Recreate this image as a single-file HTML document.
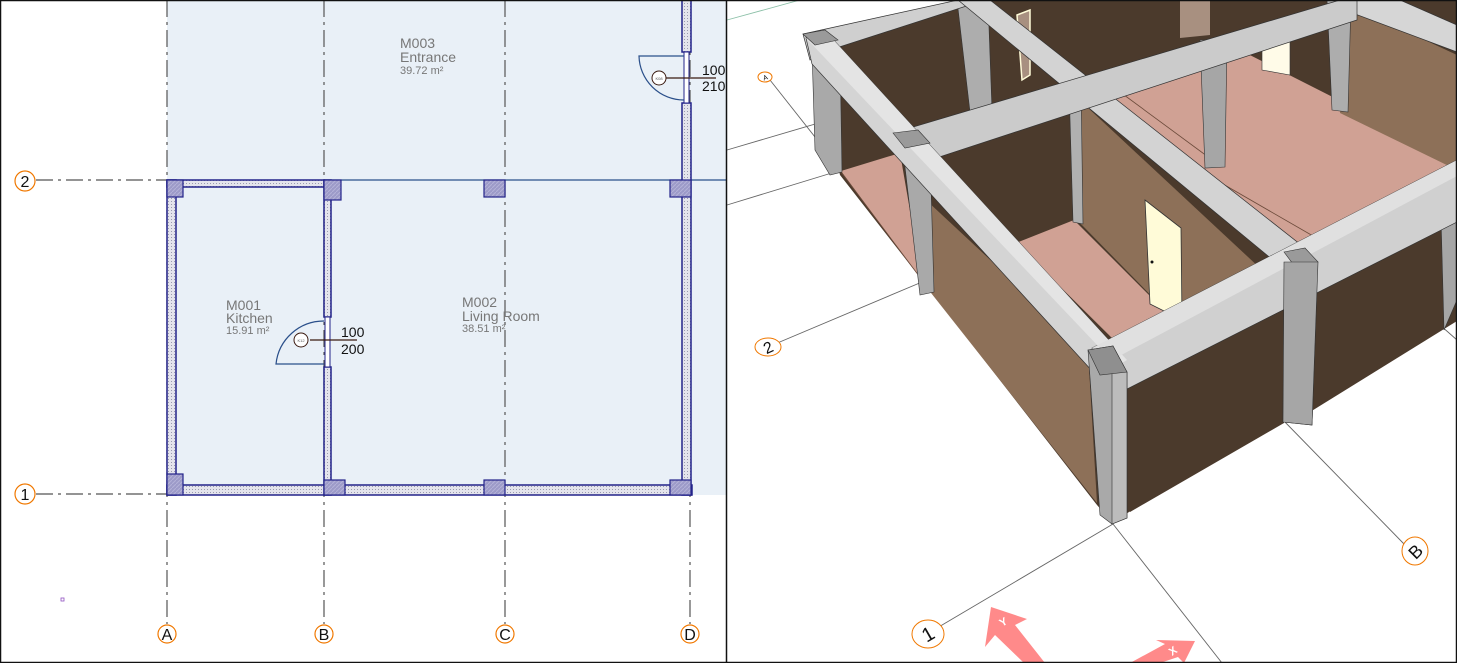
<!DOCTYPE html>
<html><head><meta charset="utf-8"><style>
html,body{margin:0;padding:0;background:#fff;}
svg{display:block;}
text{font-family:"Liberation Sans",sans-serif;}
</style></head><body>
<svg width="1457" height="663" viewBox="0 0 1457 663" xmlns="http://www.w3.org/2000/svg">
<defs>
<pattern id="dots" width="3" height="3" patternUnits="userSpaceOnUse"><rect width="3" height="3" fill="#e4e4ec"/><rect width="1" height="1" fill="#9a9ab0"/></pattern>
<pattern id="hatch" width="4" height="4" patternUnits="userSpaceOnUse"><rect width="4" height="4" fill="#9c9ac8"/><path d="M0 4L4 0" stroke="#b4b2d8" stroke-width="1"/></pattern>
</defs>
<!-- LEFT PLAN -->
<rect x="0" y="0" width="727" height="663" fill="#fff"/>
<rect x="167" y="0" width="559" height="495" fill="#e9f0f7"/>
<g stroke="#555" stroke-width="1.2" stroke-dasharray="17,5,3,5" fill="none">
<line x1="167" y1="0" x2="167" y2="624"/>
<line x1="324" y1="0" x2="324" y2="624"/>
<line x1="505" y1="0" x2="505" y2="624"/>
<line x1="690" y1="0" x2="690" y2="624"/>
<line x1="36" y1="180" x2="167" y2="180"/>
<line x1="36" y1="494" x2="167" y2="494"/>
</g>
<line x1="324" y1="180" x2="726" y2="180" stroke="#2a4f8a" stroke-width="1.2"/>
<g stroke="#23238a" stroke-width="1.5" fill="url(#dots)">
<rect x="167" y="180" width="157" height="7"/>
<rect x="167" y="180" width="9" height="315"/>
<rect x="167" y="485" width="525" height="10"/>
<rect x="682" y="0" width="9" height="52"/>
<rect x="682" y="103" width="9" height="392"/>
<rect x="324" y="180" width="7" height="137"/>
<rect x="324" y="367" width="7" height="128"/>
</g>
<rect x="684" y="52" width="5" height="51" fill="#fff" stroke="#23238a" stroke-width="1"/>
<rect x="325" y="317" width="5" height="50" fill="#fff" stroke="#23238a" stroke-width="1"/>
<g stroke="#23238a" stroke-width="1.2" fill="url(#hatch)">
<rect x="167" y="180" width="16" height="17"/>
<rect x="324" y="180" width="17" height="20"/>
<rect x="484" y="180" width="21" height="17"/>
<rect x="670" y="180" width="21" height="17"/>
<rect x="167" y="474" width="16" height="21"/>
<rect x="324" y="480" width="21" height="15"/>
<rect x="484" y="480" width="21" height="15"/>
<rect x="670" y="480" width="21" height="15"/>
</g>
<path d="M324 321 A48 48 0 0 0 276 364 L324 364" fill="none" stroke="#2a4f8a" stroke-width="1.2"/>
<line x1="310" y1="340" x2="357" y2="340" stroke="#3a1a10" stroke-width="1.2"/>
<circle cx="301" cy="340" r="7" fill="#fff" stroke="#3a1a10"/>
<text x="301" y="342" font-size="4" text-anchor="middle" fill="#555">K12</text>
<text x="341" y="337" font-size="14" fill="#111">100</text>
<text x="341" y="354" font-size="14" fill="#111">200</text>
<path d="M684 56 L639 56 A45 45 0 0 0 684 100" fill="none" stroke="#2a4f8a" stroke-width="1.2"/>
<line x1="665" y1="78" x2="716" y2="78" stroke="#3a1a10" stroke-width="1.2"/>
<circle cx="659" cy="78" r="7" fill="#fff" stroke="#3a1a10"/>
<text x="659" y="80" font-size="4" text-anchor="middle" fill="#555">K08</text>
<text x="702" y="75" font-size="14" fill="#111">100</text>
<text x="702" y="91" font-size="14" fill="#111">210</text>
<g fill="#777">
<text x="226" y="310" font-size="14">M001</text>
<text x="226" y="323" font-size="14">Kitchen</text>
<text x="226" y="334" font-size="11">15.91 m²</text>
<text x="462" y="307" font-size="14">M002</text>
<text x="462" y="321" font-size="14">Living Room</text>
<text x="462" y="332" font-size="11">38.51 m²</text>
<text x="400" y="48" font-size="14">M003</text>
<text x="400" y="62" font-size="14">Entrance</text>
<text x="400" y="74" font-size="11">39.72 m²</text>
</g>
<g fill="#fff" stroke="#f07800" stroke-width="1.2">
<circle cx="25" cy="181" r="10"/><circle cx="25" cy="494" r="10"/>
<circle cx="167" cy="634" r="9"/><circle cx="324" cy="634" r="9"/>
<circle cx="505" cy="634" r="9"/><circle cx="690" cy="634" r="9"/>
</g>
<g font-size="16" fill="#111" text-anchor="middle">
<text x="25" y="187">2</text><text x="25" y="500">1</text>
<text x="167" y="640">A</text><text x="324" y="640">B</text>
<text x="505" y="640">C</text><text x="690" y="640">D</text>
</g>
<rect x="61" y="598" width="3" height="3" fill="none" stroke="#9050c0" stroke-width="0.8"/>

<!-- RIGHT 3D -->
<g>
<g stroke="#666" stroke-width="0.9" fill="none">
<line x1="727" y1="150" x2="822" y2="122"/>
<line x1="727" y1="205" x2="835" y2="172"/>
<line x1="770" y1="80" x2="845" y2="175"/>
<line x1="775" y1="344" x2="922" y2="282"/>
<line x1="937" y1="628" x2="1113" y2="524"/>
<line x1="1113" y1="524" x2="1222" y2="663"/>
<line x1="1283" y1="420" x2="1405" y2="545"/>
<line x1="1440" y1="325" x2="1457" y2="340"/>
</g>
<line x1="727" y1="20" x2="800" y2="0" stroke="#8cc0a8" stroke-width="0.9"/>
<polygon points="805,35 960,0 1457,0 1457,320 1112,522 1097,505 922,280 840,175" fill="#4b3a2c"/>
<polygon points="841,171 900,153 922,280" fill="#d0a194"/>
<line x1="841" y1="172" x2="922" y2="280" stroke="#6b4a3a" stroke-width="0.8"/>
<polygon points="1100,98 1240,50 1457,160 1457,178 1293,252 1185,165" fill="#d0a194"/>
<polygon points="1016,243 1074,220 1169,315 1116,342" fill="#d0a194"/>
<line x1="1120" y1="92" x2="1215" y2="162" stroke="#6b4a3a" stroke-width="0.8"/>
<line x1="1190" y1="165" x2="1320" y2="240" stroke="#6b4a3a" stroke-width="0.8"/>
<polygon points="1072,93 1262,270 1170,315 1079,222" fill="#8d7058"/>
<polygon points="1350,5 1457,55 1457,170 1340,113" fill="#8d7058"/>
<polygon points="1180,0 1210,0 1210,35 1180,38" fill="#a89080"/>
<polygon points="1017,15 1030,10 1030,75 1022,80" fill="#a89080" stroke="#fffbd8" stroke-width="1.5"/>
<polygon points="1262,35 1290,28 1290,75 1262,70" fill="#fffbe8" stroke="#333" stroke-width="0.6"/>
<polygon points="1145,200 1181,228 1182,320 1150,304" fill="#fffbd8" stroke="#333" stroke-width="0.8"/>
<circle cx="1152" cy="262" r="1.5" fill="#111"/>
<polygon points="911,186 1088,351 1097,503 920,279" fill="#8d7058"/>
<polygon points="1125,368 1295,296 1284,423 1130,512" fill="#4b3a2c"/>
<polygon points="1318,271 1457,210 1457,321 1310,412" fill="#4b3a2c"/>
<!-- columns behind beams -->
<g stroke="#333" stroke-width="0.6">
<polygon points="812,50 840,50 842,172 830,175 815,150" fill="#a9a9a9"/>
<polygon points="957,0 988,0 992,110 970,112" fill="#adadad"/>
<polygon points="1327,0 1351,0 1348,112 1332,110" fill="#adadad"/>
<polygon points="1069,85 1081,85 1083,224 1073,222" fill="#b0b0b0"/>
<polygon points="903,150 930,150 934,292 920,295" fill="#a9a9a9"/>
<polygon points="1200,40 1227,40 1225,167 1205,168" fill="#a6a6a6"/>
<polygon points="1284,262 1318,262 1312,425 1283,422" fill="#a6a6a6"/>
<polygon points="1440,180 1457,175 1457,300 1444,330" fill="#a6a6a6"/>
</g>
<!-- beams -->
<g stroke="#333" stroke-width="0.7">
<polygon points="803,34 958,0 985,0 830,50 810,60" fill="#cfcfcf"/>
<polygon points="1350,0 1400,0 1457,25 1457,52 1355,14" fill="#d6d6d6"/>
<polygon points="958,0 990,0 1310,252 1285,270" fill="#d3d3d3"/>
<polygon points="893,133 1340,0 1357,0 1357,20 915,165" fill="#cbcbcb"/>
<polygon points="806,38 830,36 1127,360 1104,384 812,64" fill="#d4d4d4"/>
<polygon points="1092,348 1457,160 1457,222 1125,390 1100,382" fill="#d0d0d0"/>
</g>
<polygon points="806,38 830,36 1127,360 1117,366" fill="#e4e4e4"/>
<polygon points="1092,348 1457,160 1457,176 1112,360" fill="#e0e0e0"/>
<!-- caps and front column -->
<g stroke="#333" stroke-width="0.6">
<polygon points="1284,252 1305,248 1318,262 1296,268" fill="#9a9a9a"/>
<polygon points="893,133 918,130 930,143 905,148" fill="#9a9a9a"/>
<polygon points="803,34 825,30 838,40 815,45" fill="#9a9a9a"/>
<polygon points="1284,262 1318,262 1312,425 1283,422" fill="#a6a6a6"/>
<polygon points="1088,350 1113,346 1127,372 1127,518 1112,524 1100,515" fill="#a9a9a9"/>
<polygon points="1112,372 1127,372 1127,518 1112,524" fill="#bcbcbc"/>
<polygon points="1088,350 1113,346 1127,372 1100,375" fill="#8f8f8f"/>
</g>
<polygon points="1284,262 1457,176 1457,196 1284,282" fill="#d0d0d0" opacity="0"/>
<polygon points="991,607 1027,619 1015,625 1045,663 1024,663 995,635 985,647" fill="#ff8a8a"/>
<polygon points="1195,641 1184,663 1178,657 1160,663 1130,663 1165,644 1156,640" fill="#ff8a8a"/>
<text x="1002" y="627" font-size="11" fill="#fff" font-weight="bold" transform="rotate(-30 1002 627)">Y</text>
<text x="1172" y="656" font-size="11" fill="#fff" font-weight="bold" transform="rotate(-35 1172 656)">X</text>
<g fill="#fff" stroke="#f07800" stroke-width="1">
<ellipse cx="765" cy="77" rx="7" ry="5"/>
<ellipse cx="768" cy="347" rx="13" ry="9"/>
<ellipse cx="928" cy="634" rx="16" ry="14"/>
<ellipse cx="1415" cy="551" rx="13" ry="14"/>
</g>
<g fill="#111" text-anchor="middle">
<text x="765" y="80" font-size="7" transform="rotate(-20 765 77)">A</text>
<text x="768" y="353" font-size="16" transform="rotate(-25 768 347)">2</text>
<text x="928" y="641" font-size="20" transform="rotate(-30 928 634)">1</text>
<text x="1415" y="558" font-size="18" transform="rotate(-45 1415 551)">B</text>
</g>
</g>
<line x1="726.5" y1="0" x2="726.5" y2="663" stroke="#111" stroke-width="1.5"/>
<rect x="0.5" y="0.5" width="1456" height="662" fill="none" stroke="#111" stroke-width="1.5"/>
</svg>
</body></html>
